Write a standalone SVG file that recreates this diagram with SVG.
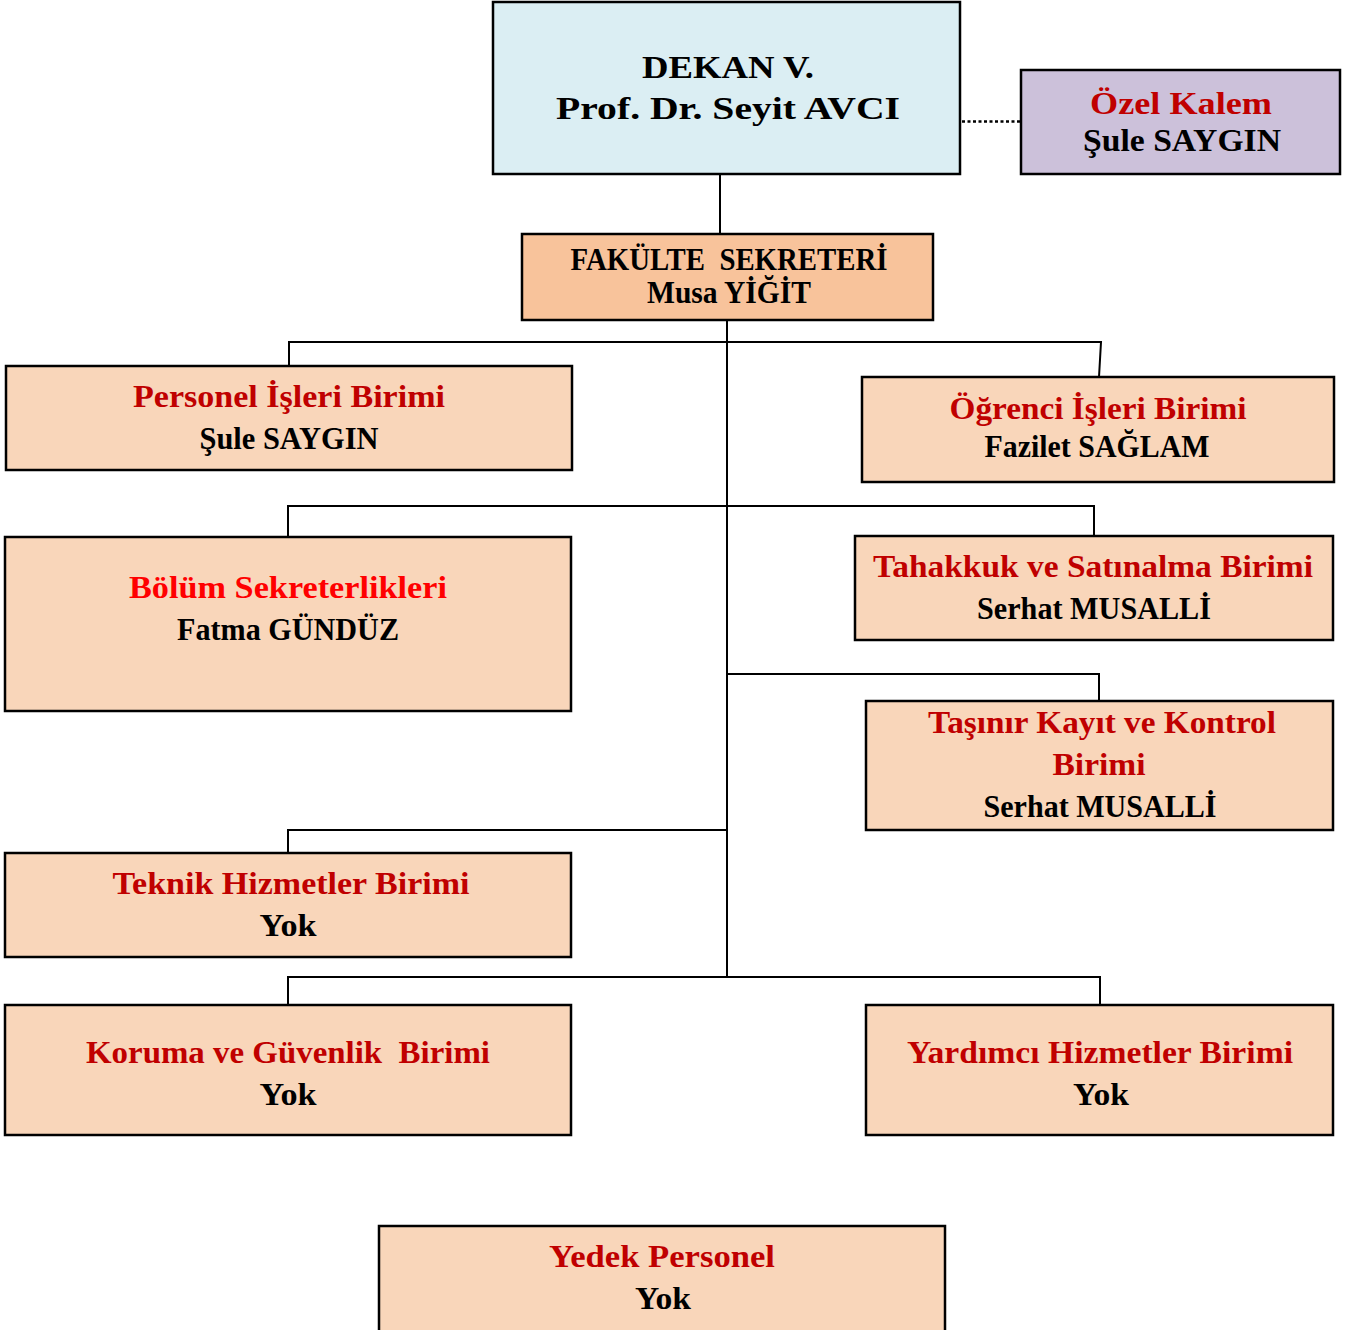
<svg xmlns="http://www.w3.org/2000/svg" width="1350" height="1330" viewBox="0 0 1350 1330">
<style>
.box{stroke:#000;stroke-width:2.5;fill:#F9D6BA}
.ln{stroke:#000;stroke-width:2;fill:none}
text{font-family:"Liberation Serif","DejaVu Serif",serif;font-weight:bold;text-anchor:middle;font-size:31px}
.t{fill:#C00000}
.r{fill:#FF0000}
.k{fill:#000}
</style>
<rect width="1350" height="1330" fill="#fff"/>
<g id="connectors">
<line class="ln" x1="720" y1="174" x2="720" y2="234"/>
<line x1="962" y1="121.5" x2="1021" y2="121.5" stroke="#000" stroke-width="2.5" stroke-dasharray="3,2.5"/>
<line class="ln" x1="727" y1="320" x2="727" y2="977"/>
<polyline class="ln" points="289,366 289,342 1101,342 1099,377"/>
<polyline class="ln" points="288,537 288,506 1094,506 1094,536"/>
<polyline class="ln" points="727,674 1099,674 1099,701"/>
<polyline class="ln" points="288,853 288,830 727,830"/>
<polyline class="ln" points="288,1005 288,977 1100,977 1100,1005"/>
</g>
<g id="dekan">
<rect x="493" y="2" width="467" height="172" fill="#DBEEF3" stroke="#000" stroke-width="2.5"/>
<text x="728" y="78" font-size="33" textLength="172" lengthAdjust="spacingAndGlyphs">DEKAN V.</text>
<text x="728" y="119" font-size="33" textLength="344" lengthAdjust="spacingAndGlyphs">Prof. Dr. Seyit AVCI</text>
</g>
<g id="ozel-kalem">
<rect x="1021" y="70" width="319" height="104" fill="#CCC1DA" stroke="#000" stroke-width="2.5"/>
<text class="t" x="1181" y="114" textLength="182" lengthAdjust="spacingAndGlyphs">Özel Kalem</text>
<text class="k" x="1182" y="151" textLength="198" lengthAdjust="spacingAndGlyphs">Şule SAYGIN</text>
</g>
<g id="fakulte-sekreteri">
<rect x="522" y="234" width="411" height="86" fill="#F8C39B" stroke="#000" stroke-width="2.5"/>
<text class="k" x="729" y="270" font-size="27" textLength="317" lengthAdjust="spacingAndGlyphs" xml:space="preserve">FAKÜLTE  SEKRETERİ</text>
<text class="k" x="729" y="303" font-size="27" textLength="164" lengthAdjust="spacingAndGlyphs">Musa YİĞİT</text>
</g>
<g id="personel-isleri">
<rect class="box" x="6" y="366" width="566" height="104"/>
<text class="t" x="289" y="407" textLength="312" lengthAdjust="spacingAndGlyphs">Personel İşleri Birimi</text>
<text class="k" x="289" y="449" textLength="179" lengthAdjust="spacingAndGlyphs">Şule SAYGIN</text>
</g>
<g id="ogrenci-isleri">
<rect class="box" x="862" y="377" width="472" height="105"/>
<text class="t" x="1098" y="419" textLength="297" lengthAdjust="spacingAndGlyphs">Öğrenci İşleri Birimi</text>
<text class="k" x="1097" y="457" textLength="225" lengthAdjust="spacingAndGlyphs">Fazilet SAĞLAM</text>
</g>
<g id="bolum-sekreterlikleri">
<rect class="box" x="5" y="537" width="566" height="174"/>
<text class="r" x="288" y="598" textLength="318" lengthAdjust="spacingAndGlyphs">Bölüm Sekreterlikleri</text>
<text class="k" x="288" y="640" textLength="222" lengthAdjust="spacingAndGlyphs">Fatma GÜNDÜZ</text>
</g>
<g id="tahakkuk">
<rect class="box" x="855" y="536" width="478" height="104"/>
<text class="t" x="1093" y="577" textLength="440" lengthAdjust="spacingAndGlyphs">Tahakkuk ve Satınalma Birimi</text>
<text class="k" x="1094" y="619" textLength="234" lengthAdjust="spacingAndGlyphs">Serhat MUSALLİ</text>
</g>
<g id="tasinir">
<rect class="box" x="866" y="701" width="467" height="129"/>
<text class="t" x="1102" y="733" textLength="348" lengthAdjust="spacingAndGlyphs">Taşınır Kayıt ve Kontrol</text>
<text class="t" x="1099" y="775" textLength="93" lengthAdjust="spacingAndGlyphs">Birimi</text>
<text class="k" x="1100" y="817" textLength="233" lengthAdjust="spacingAndGlyphs">Serhat MUSALLİ</text>
</g>
<g id="teknik">
<rect class="box" x="5" y="853" width="566" height="104"/>
<text class="t" x="291" y="894" textLength="357" lengthAdjust="spacingAndGlyphs">Teknik Hizmetler Birimi</text>
<text class="k" x="288" y="936" textLength="57" lengthAdjust="spacingAndGlyphs">Yok</text>
</g>
<g id="koruma">
<rect class="box" x="5" y="1005" width="566" height="130"/>
<text class="t" x="288" y="1063" textLength="404" lengthAdjust="spacingAndGlyphs" xml:space="preserve">Koruma ve Güvenlik  Birimi</text>
<text class="k" x="288" y="1105" textLength="57" lengthAdjust="spacingAndGlyphs">Yok</text>
</g>
<g id="yardimci">
<rect class="box" x="866" y="1005" width="467" height="130"/>
<text class="t" x="1100" y="1063" textLength="386" lengthAdjust="spacingAndGlyphs">Yardımcı Hizmetler Birimi</text>
<text class="k" x="1101" y="1105" textLength="56" lengthAdjust="spacingAndGlyphs">Yok</text>
</g>
<g id="yedek-personel">
<rect class="box" x="379" y="1226" width="566" height="110"/>
<text class="t" x="662" y="1267" textLength="226" lengthAdjust="spacingAndGlyphs">Yedek Personel</text>
<text class="k" x="663" y="1309" textLength="56" lengthAdjust="spacingAndGlyphs">Yok</text>
</g>
</svg>
